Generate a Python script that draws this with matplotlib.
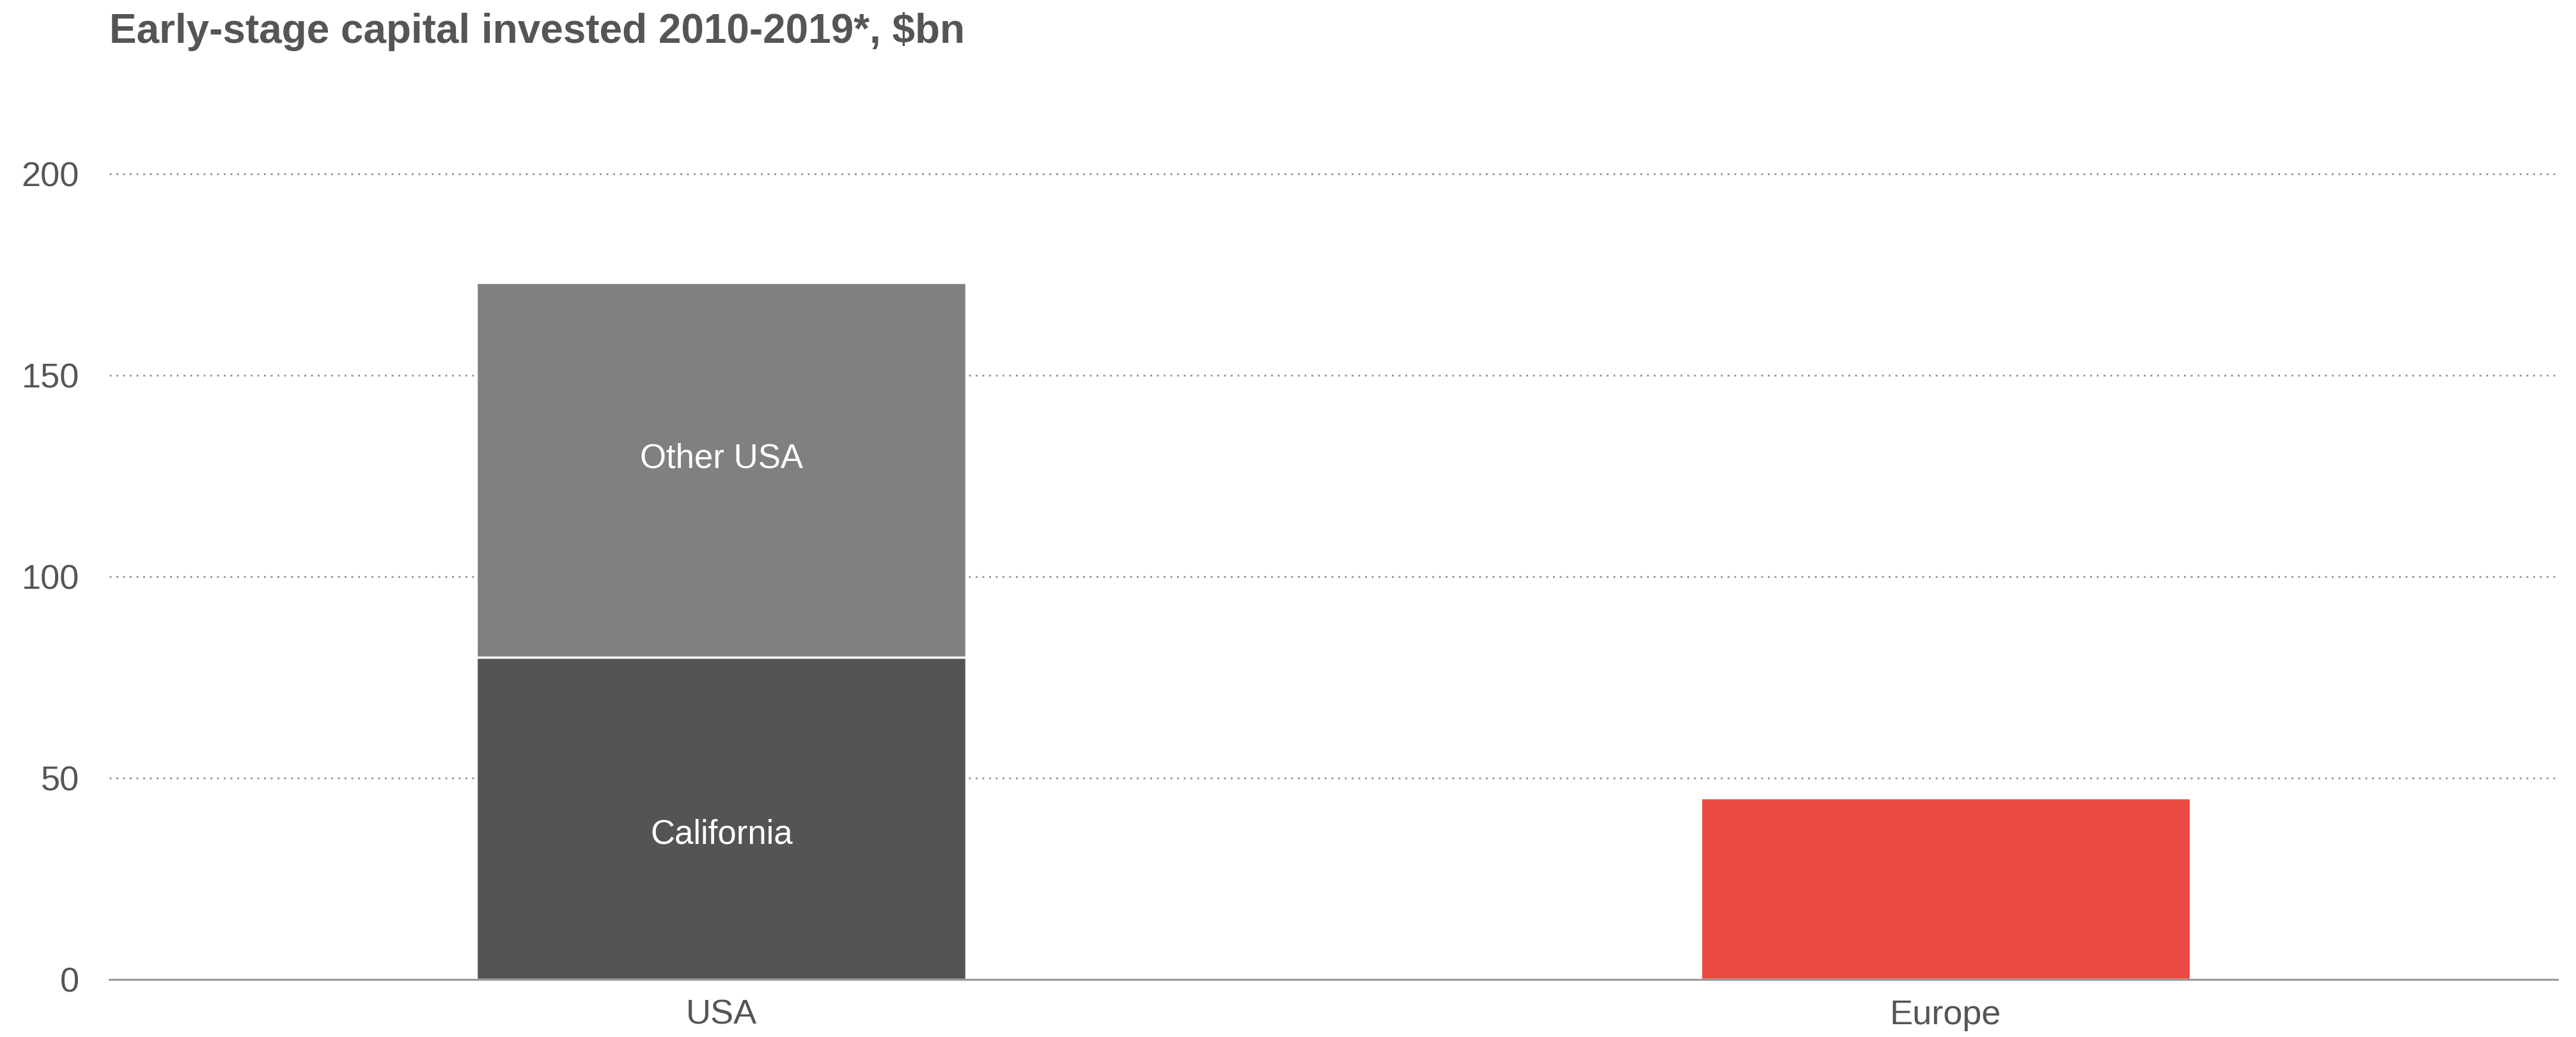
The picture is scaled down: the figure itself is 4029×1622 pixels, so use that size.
import matplotlib

matplotlib.use("Agg")
import matplotlib.pyplot as plt

plt.rcParams["font.family"] = ["Liberation Sans", "DejaVu Sans"]

TEXT = "#555555"
GRID = "#999999"

regions = ["USA", "Europe"]
california = [80, 0]
other_usa = [93, 0]
europe = [0, 45]

fig = plt.figure(figsize=(40.3, 16.22), dpi=100)
ax = fig.add_axes([171 / 4030, 90 / 1622, (4000 - 171) / 4030, (1532 - 177) / 1622])

xs = list(range(len(regions)))
w = 0.4
edge = dict(edgecolor="white", linewidth=2.5)

ax.bar(xs[0], california[0], w, color="#545454", zorder=3, **edge)
ax.bar(xs[0], other_usa[0], w, bottom=california[0], color="#808080", zorder=3, **edge)
ax.bar(xs[1], europe[1], w, color="#E94A42", zorder=3, **edge)

# segment labels inside the stacked USA bar
ax.text(xs[0], california[0] + other_usa[0] * 0.53, "Other USA", ha="center", va="center",
        color="white", fontsize=38, zorder=4)
ax.text(xs[0], california[0] * 0.45, "California", ha="center", va="center",
        color="white", fontsize=38, zorder=4)

ax.set_xlim(-0.5, 1.5)
ax.set_ylim(0, 215)
ax.set_yticks([0, 50, 100, 150, 200])
ax.set_xticks(xs)
ax.set_xticklabels(regions)
ax.tick_params(axis="both", length=0, labelsize=39, labelcolor=TEXT)
ax.tick_params(axis="y", pad=34)
ax.tick_params(axis="x", pad=22)

for y in [50, 100, 150, 200]:
    ax.axhline(y, color=GRID, linewidth=2.1, linestyle=(0, (1, 2.6)), zorder=1)

for s in ["top", "right", "left"]:
    ax.spines[s].set_visible(False)
ax.spines["bottom"].set_color(GRID)
ax.spines["bottom"].set_linewidth(2.2)
ax.spines["bottom"].set_zorder(5)

fig.text(171 / 4030, 1 - 67 / 1622, "Early-stage capital invested 2010-2019*, $bn",
         fontsize=46, fontweight="bold", color=TEXT, ha="left", va="baseline")

fig.savefig("out.png", dpi=100, facecolor="white")
